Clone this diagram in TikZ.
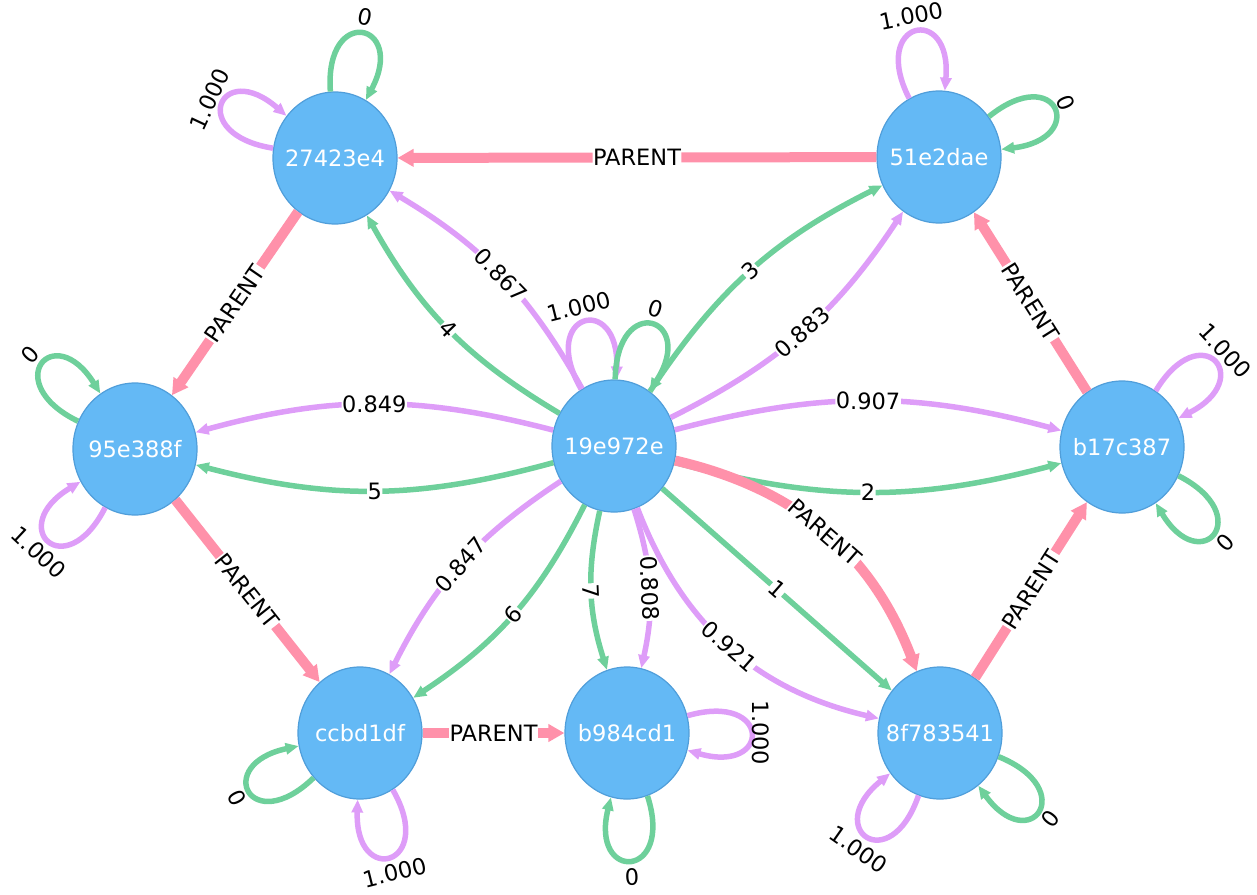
\documentclass[tikz,border=0pt]{standalone}
\usepackage{fontspec}
\setmainfont{DejaVu Sans}
\usetikzlibrary{arrows.meta,calc,shapes.geometric}

\definecolor{nodefill}{RGB}{100,185,245}
\definecolor{nodeline}{RGB}{80,158,218}
\definecolor{linkgreen}{RGB}{110,208,155}
\definecolor{linkpurple}{RGB}{222,157,248}
\definecolor{linkpink}{RGB}{255,145,170}

\tikzset{
  hashnode/.style={ellipse, draw=nodeline, line width=1.2pt, fill=nodefill,
    minimum width=124pt, minimum height=132pt, inner xsep=-25pt, inner ysep=0pt,
    text=white, font=\fontsize{22.5}{26}\selectfont},
  lbl/.style={fill=white, inner sep=0.5pt, text=black, font=\fontsize{22.5}{26}\selectfont},
  loopl/.style={inner sep=0pt, text=black, font=\fontsize{22.5}{26}\selectfont},
  gl/.style={draw=linkgreen, line width=5.5pt, -{Triangle[length=13pt,width=11pt]}},
  pl/.style={draw=linkpurple, line width=5.5pt, -{Triangle[length=13pt,width=11pt]}},
  pk/.style={draw=linkpink, line width=10pt, -{Triangle[length=16pt,width=17pt]}},
}

% self loop: node, direction, style, label, label rotation, label name
\newcommand{\nodeloop}[6]{%
  \pgfmathsetmacro{\loopout}{#2+16}%
  \pgfmathsetmacro{\loopin}{#2-16}%
  \pgfmathsetmacro{\looplr}{134+10*abs(sin(#2))}%
  \draw[#3] (#1) to[out=\loopout, in=\loopin, distance=88pt] (#1);
  \node[loopl, rotate=#5] (#6) at ($(#1.center)+(#2:\looplr pt)$) {#4};
}

\begin{document}
\begin{tikzpicture}[x=1pt,y=1pt]
\path[use as bounding box] (0,0) rectangle (1257,-894);

% hash nodes
\node[hashnode] (n27) at (335,-158) {27423e4};
\node[hashnode] (n51) at (939,-157) {51e2dae};
\node[hashnode] (n95) at (135,-449) {95e388f};
\node[hashnode] (hub) at (614,-446) {19e972e};
\node[hashnode] (nb17) at (1122,-447) {b17c387};
\node[hashnode] (ncc) at (360,-733) {ccbd1df};
\node[hashnode] (nb98) at (627,-733) {b984cd1};
\node[hashnode] (n8f) at (940,-733) {8f783541};

% parent links
\draw[pk] (n51) -- node[lbl, sloped] (p1) {PARENT} (n27);
\draw[pk] (n27) -- node[lbl, sloped] (p2) {PARENT} (n95);
\draw[pk] (n95) -- node[lbl, sloped] (p3) {PARENT} (ncc);
\draw[pk] (ncc) -- node[lbl, sloped] (p4) {PARENT} (nb98);
\draw[pk] (n8f) -- node[lbl, sloped] (p5) {PARENT} (nb17);
\draw[pk] (nb17) -- node[lbl, sloped] (p6) {PARENT} (n51);

% weighted links out of the hub
\draw[pl] (hub) to[bend right=15] node[lbl, sloped] (w1) {0.867} (n27);
\draw[gl] (hub) to[bend left=15] node[lbl, sloped] (w2) {4} (n27);
\draw[gl] (hub) to[bend left=15] node[lbl, sloped] (w3) {3} (n51);
\draw[pl] (hub) to[bend right=15] node[lbl, sloped] (w4) {0.883} (n51);
\draw[pl] (hub) to[bend right=15] node[lbl, sloped] (w5) {0.849} (n95);
\draw[gl] (hub) to[bend left=15] node[lbl, sloped] (w6) {5} (n95);
\draw[gl] (hub) to[bend right=15] node[lbl, sloped] (w8) {2} (nb17);
\draw[pl] (hub) to[bend left=15] node[lbl, sloped] (w7) {0.907} (nb17);
\draw[pl] (hub) to[bend right=15] node[lbl, sloped] (w9) {0.847} (ncc);
\draw[gl] (hub) to[bend left=15] node[lbl, sloped] (w10) {6} (ncc);
\draw[gl] (hub) to[bend right=15] node[lbl, sloped] (w11) {7} (nb98);
\draw[pl] (hub) to[bend left=15] node[lbl, sloped] (w12) {0.808} (nb98);
\draw[gl] (hub) -- node[lbl, sloped] (w13) {1} (n8f);
\draw[pl] (hub) to[bend right=28] node[lbl, sloped] (w14) {0.921} (n8f);
\draw[pk] (hub) to[bend left=28] node[lbl, sloped] (p7) {PARENT} (n8f);

% self loops
\nodeloop{n27}{78}{gl}{0}{-12}{s1}
\nodeloop{n27}{155}{pl}{1.000}{65}{s2}
\nodeloop{n51}{101}{pl}{1.000}{11}{s3}
\nodeloop{n51}{23}{gl}{0}{-67}{s4}
\nodeloop{n95}{138}{gl}{0}{48}{s5}
\nodeloop{n95}{227}{pl}{1.000}{-43}{s6}
\nodeloop{hub}{104}{pl}{1.000}{14}{s7}
\nodeloop{hub}{73}{gl}{0}{-17}{s8}
\nodeloop{nb17}{43}{pl}{1.000}{-47}{s9}
\nodeloop{nb17}{-43}{gl}{0}{47}{s10}
\nodeloop{ncc}{208}{gl}{0}{-62}{s11}
\nodeloop{ncc}{284}{pl}{1.000}{14}{s12}
\nodeloop{nb98}{0}{pl}{1.000}{-90}{s13}
\nodeloop{nb98}{272}{gl}{0}{2}{s14}
\nodeloop{n8f}{235}{pl}{1.000}{-35}{s15}
\nodeloop{n8f}{-38}{gl}{0}{52}{s16}
\end{tikzpicture}
\end{document}
